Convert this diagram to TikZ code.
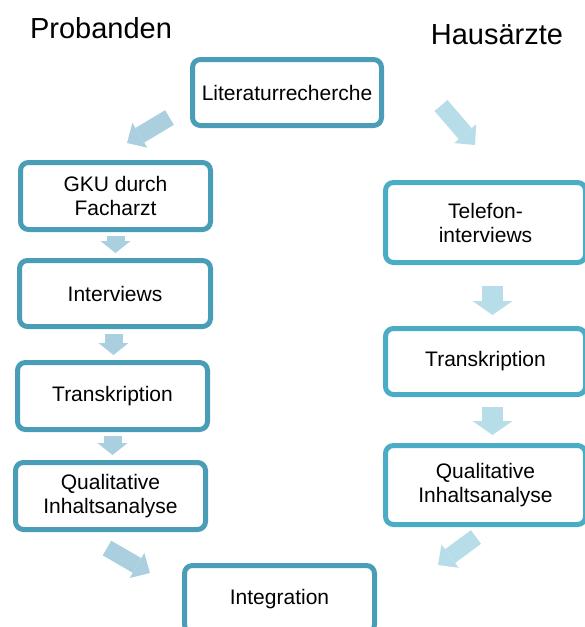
\documentclass[tikz,border=0pt]{standalone}
\usepackage{fontspec}
\setmainfont{Liberation Sans}
\usetikzlibrary{arrows.meta}
\definecolor{frameL}{RGB}{74,157,182}
\definecolor{frameR}{RGB}{75,172,198}
\definecolor{arrowL}{RGB}{170,207,222}
\definecolor{arrowR}{RGB}{183,222,232}
\begin{document}
\begin{tikzpicture}[x=1pt, y=-1pt,
  proc box/.style={rectangle, draw=frameL, line width=5pt, rounded corners=8pt, fill=white,
    align=center, inner sep=0pt, font=\fontsize{21}{24}\selectfont},
  right box/.style={proc box, draw=frameR, minimum width=200pt},
  head/.style={font=\fontsize{29}{32}\selectfont},
  flow/.style={draw=arrowL, line width=18pt, -{Triangle[width=30pt,length=12pt,line width=0pt]}},
  flowR/.style={draw=arrowR, line width=21pt, -{Triangle[width=40pt,length=14pt,line width=0pt]}},
  slant/.style={line width=17pt, -{Triangle[width=29pt,length=15pt,line width=0pt]}}]
\useasboundingbox (0,0) rectangle (585,627);
% column heads
\node[head] (hp) at (101,28) {Probanden};
\node[head] (hh) at (497,35) {Hausärzte};
% boxes
\begin{scope}[every node/.append style={minimum height=67pt}]
\node[proc box, minimum width=189pt, minimum height=66pt] (lit) at (287,92.5) {Literaturrecherche};
\node[proc box, minimum width=190pt] (gku) at (115.5,196) {GKU durch\\Facharzt};
\node[proc box, minimum width=191pt, minimum height=66pt] (intL) at (115,293.5) {Interviews};
\node[proc box, minimum width=190pt] (traL) at (112.5,396) {Transkription};
\node[proc box, minimum width=190pt] (quaL) at (110.5,496) {Qualitative\\Inhaltsanalyse};
\node[proc box, minimum width=190pt] (integ) at (279.5,599) {Integration};
\node[right box, minimum height=80pt] (telR) at (485.5,222.5) {Telefon-\\interviews};
\node[right box, minimum height=66pt] (traR) at (485.5,361.5) {Transkription};
\node[right box, minimum height=79pt] (quaR) at (485.5,485) {Qualitative\\Inhaltsanalyse};
\end{scope}
% Probanden
\draw[flow, shorten <=4pt, shorten >=5pt] (gku.south) -- (gku.south |- intL.north);
\draw[flow, shorten <=5pt, shorten >=5pt] ([xshift=-1.5pt]intL.south) -- ([xshift=-1.5pt]intL.south |- traL.north);
\draw[flow, shorten <=4pt, shorten >=5pt] (traL.south) -- (traL.south |- quaL.north);
% Hausaerzte
\draw[flowR, shorten <=21pt, shorten >=11pt] ([xshift=7pt]telR.south) -- ([xshift=7pt]telR.south |- traR.north);
\draw[flowR, shorten <=10pt, shorten >=8pt] ([xshift=7pt]traR.south) -- ([xshift=7pt]traR.south |- quaR.north);
% slanted arrows
\coordinate (litA) at (169.5,117.5);
\coordinate (gkuA) at (127,143);
\coordinate (litB) at (441,105.5);
\coordinate (telA) at (475,145);
\coordinate (quaLA) at (107,548);
\coordinate (intA) at (150,573);
\coordinate (quaRA) at (476,537);
\coordinate (intB) at (438,565);
\draw[slant, draw=arrowL] (litA) -- (gkuA);
\draw[slant, draw=arrowR] (litB) -- (telA);
\draw[slant, draw=arrowL] (quaLA) -- (intA);
\draw[slant, draw=arrowR] (quaRA) -- (intB);
\end{tikzpicture}
\end{document}
